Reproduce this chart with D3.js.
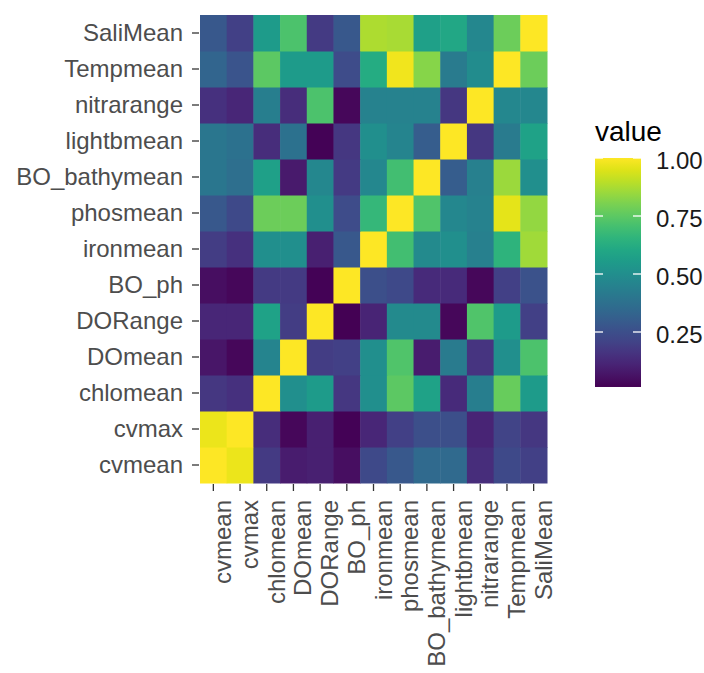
<!DOCTYPE html>
<html>
<head>
<meta charset="utf-8">
<script src="https://cdn.jsdelivr.net/npm/d3@7"></script>
<style>
  html, body { margin: 0; padding: 0; background: #ffffff; }
  svg { display: block; font-family: "Liberation Sans", Arial, sans-serif; }
</style>
</head>
<body>
<svg id="chart" width="704" height="673"></svg>
<script>
// Variables, in axis order (x left->right, y bottom->top)
const variables = ["cvmean", "cvmax", "chlomean", "DOmean", "DORange", "BO_ph",
  "ironmean", "phosmean", "BO_bathymean", "lightbmean", "nitrarange", "Tempmean", "SaliMean"];

// One row of values per y-axis variable; entries follow the x-axis order above
const cvmeanRow     = [1.00, 0.97, 0.18, 0.09, 0.10, 0.05, 0.23, 0.28, 0.35, 0.35, 0.14, 0.23, 0.20];
const cvmaxRow      = [0.97, 1.00, 0.14, 0.03, 0.10, 0.02, 0.12, 0.20, 0.25, 0.25, 0.11, 0.21, 0.17];
const chlomeanRow   = [0.17, 0.15, 1.00, 0.50, 0.55, 0.17, 0.50, 0.75, 0.58, 0.13, 0.43, 0.77, 0.55];
const DOmeanRow     = [0.07, 0.03, 0.46, 1.00, 0.19, 0.20, 0.50, 0.73, 0.09, 0.42, 0.16, 0.50, 0.72];
const DORangeRow    = [0.12, 0.12, 0.58, 0.19, 1.00, 0.013, 0.11, 0.48, 0.48, 0.03, 0.73, 0.55, 0.20];
const BO_phRow      = [0.05, 0.03, 0.18, 0.18, 0.02, 1.00, 0.25, 0.23, 0.13, 0.13, 0.03, 0.20, 0.26];
const ironmeanRow   = [0.19, 0.15, 0.50, 0.50, 0.10, 0.28, 1.00, 0.70, 0.48, 0.50, 0.44, 0.65, 0.86];
const phosmeanRow   = [0.28, 0.23, 0.78, 0.78, 0.50, 0.24, 0.67, 1.00, 0.73, 0.47, 0.45, 0.96, 0.84];
const bathymeanRow  = [0.40, 0.37, 0.57, 0.08, 0.47, 0.18, 0.47, 0.70, 1.00, 0.30, 0.44, 0.85, 0.50];
const lightbmeanRow = [0.40, 0.38, 0.14, 0.38, 0.02, 0.17, 0.50, 0.46, 0.30, 1.00, 0.17, 0.42, 0.58];
const nitrarangeRow = [0.15, 0.12, 0.43, 0.14, 0.72, 0.03, 0.45, 0.45, 0.45, 0.17, 1.00, 0.47, 0.47];
const TempmeanRow   = [0.33, 0.27, 0.75, 0.55, 0.55, 0.24, 0.62, 0.98, 0.82, 0.42, 0.49, 1.00, 0.78];
const SaliMeanRow   = [0.28, 0.20, 0.55, 0.72, 0.18, 0.28, 0.88, 0.87, 0.57, 0.60, 0.47, 0.78, 1.00];

const rows = [cvmeanRow, cvmaxRow, chlomeanRow, DOmeanRow, DORangeRow, BO_phRow,
  ironmeanRow, phosmeanRow, bathymeanRow, lightbmeanRow, nitrarangeRow, TempmeanRow, SaliMeanRow];

// Colour bar tick labels
const legendTicks = [0.25, 0.50, 0.75, 1.00];

// Long-format cells
const cells = [];
rows.forEach((row, i) => row.forEach((v, j) => cells.push({ y: variables[i], x: variables[j], value: v })));

const svg = d3.select("#chart");
const panel = { left: 200, right: 547, top: 15, bottom: 483 };

const x = d3.scaleBand().domain(variables).range([panel.left, panel.right]).padding(0);
const y = d3.scaleBand().domain(variables).range([panel.bottom, panel.top]).padding(0);

const vMin = d3.min(cells, d => d.value);
const vMax = d3.max(cells, d => d.value);
const color = d3.scaleSequential(d3.interpolateViridis).domain([vMin, vMax]);

// Tiles
svg.append("g").selectAll("rect")
  .data(cells)
  .join("rect")
  .attr("x", d => x(d.x))
  .attr("y", d => y(d.y))
  .attr("width", x.bandwidth() + 0.5)
  .attr("height", y.bandwidth() + 0.5)
  .attr("fill", d => color(d.value));

const axisFont = 24;
const axisColor = "#4d4d4d";
const tickColor = "#333333";

// Y axis
const yAxis = svg.append("g")
  .attr("transform", `translate(${panel.left - 1},0)`)
  .call(d3.axisLeft(y).tickSize(7).tickPadding(9));
yAxis.select(".domain").remove();
yAxis.selectAll(".tick line").attr("stroke", tickColor).attr("stroke-width", 1.3);
yAxis.selectAll(".tick text")
  .attr("fill", axisColor)
  .style("font-size", axisFont + "px")
  .style("font-family", "'Liberation Sans', Arial, sans-serif");

// X axis with vertical labels
const xAxis = svg.append("g")
  .attr("transform", `translate(0,${panel.bottom + 1})`)
  .call(d3.axisBottom(x).tickSize(7).tickPadding(9));
xAxis.select(".domain").remove();
xAxis.selectAll(".tick line").attr("stroke", tickColor).attr("stroke-width", 1.3);
xAxis.selectAll(".tick text")
  .attr("fill", axisColor)
  .style("font-size", axisFont + "px")
  .style("font-family", "'Liberation Sans', Arial, sans-serif")
  .attr("text-anchor", "end")
  .attr("dy", null)
  .attr("y", null)
  .attr("transform", "translate(18,16) rotate(-90)");

// Colour bar legend
const legend = svg.append("g");
legend.append("text")
  .attr("x", 595).attr("y", 141)
  .attr("fill", "#000")
  .style("font-size", "28px")
  .text("value");

const barX = 595, barW = 46;
const ly = d3.scaleLinear().domain([0, 1]).range([390, 158]);

const defs = svg.append("defs");
const grad = defs.append("linearGradient")
  .attr("id", "viridis-bar")
  .attr("x1", "0").attr("y1", "1").attr("x2", "0").attr("y2", "0");
d3.range(0, 1.0001, 0.05).forEach(t => {
  grad.append("stop")
    .attr("offset", t)
    .attr("stop-color", color(vMin + t * (vMax - vMin)));
});

legend.append("rect")
  .attr("x", barX).attr("y", ly(vMax))
  .attr("width", barW).attr("height", ly(vMin) - ly(vMax))
  .attr("fill", "url(#viridis-bar)");

const lt = legend.selectAll(".ltick").data(legendTicks).join("g").attr("class", "ltick");
lt.append("line")
  .attr("x1", barX).attr("x2", barX + 8)
  .attr("y1", d => ly(d)).attr("y2", d => ly(d))
  .attr("stroke", "#ffffff").attr("stroke-width", 1.3);
lt.append("line")
  .attr("x1", barX + barW - 8).attr("x2", barX + barW)
  .attr("y1", d => ly(d)).attr("y2", d => ly(d))
  .attr("stroke", "#ffffff").attr("stroke-width", 1.3);
lt.append("text")
  .attr("x", 656)
  .attr("y", d => ly(d) + 3)
  .attr("dy", "0.35em")
  .attr("fill", "#1a1a1a")
  .style("font-size", "24px")
  .text(d => d3.format(".2f")(d));
</script>
</body>
</html>
